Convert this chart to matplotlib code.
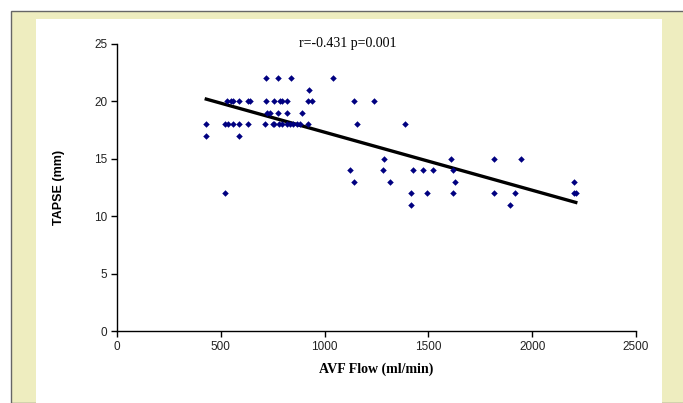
import matplotlib
matplotlib.use("Agg")
from matplotlib import pyplot as plt
from matplotlib.patches import Rectangle

# AVF flow (ml/min) vs TAPSE (mm)
flow = [430, 430, 520, 520, 537, 558, 589, 633, 713, 750, 758, 782, 794, 818, 834, 850, 866, 882, 922, 1155, 1385,
        589,
        532, 549, 558, 589, 630, 641, 720, 757, 786, 797, 818, 919, 938, 1144, 1239,
        724, 737, 777, 818, 890,
        925,
        718, 777, 839, 1042,
        1284, 1608, 1817, 1944,
        1121, 1280, 1425, 1476, 1520, 1618,
        1144, 1316, 1630, 2199,
        1415, 1494, 1618, 1817, 1917, 2199, 2212,
        1415, 1891]
tapse = [18, 17, 12, 18, 18, 18, 18, 18, 18, 18, 18, 18, 18, 18, 18, 18, 18, 18, 18, 18, 18,
         17,
         20, 20, 20, 20, 20, 20, 20, 20, 20, 20, 20, 20, 20, 20, 20,
         19, 19, 19, 19, 19,
         21,
         22, 22, 22, 22,
         15, 15, 15, 15,
         14, 14, 14, 14, 14, 14,
         13, 13, 13, 13,
         12, 12, 12, 12, 12, 12, 12,
         11, 11]

# trend line end points
trend_x = [430, 2210]
trend_y = [20.2, 11.2]

x_ticks = [0, 500, 1000, 1500, 2000, 2500]
y_ticks = [0, 5, 10, 15, 20, 25]

W, H = 683, 403
fig = plt.figure(figsize=(W / 100, H / 100), dpi=100)
fig.patch.set_facecolor("white")

# yellow frame and inner white panel (behind the axes)
fig.patches.append(Rectangle((11 / W, 0), 1, 1 - 11 / H, transform=fig.transFigure,
                             facecolor="#eeedbf", edgecolor="#666666", linewidth=1, zorder=-10))
fig.patches.append(Rectangle((36 / W, 0), (662 - 36) / W, 1 - 19 / H, transform=fig.transFigure,
                             facecolor="white", edgecolor="none", zorder=-9))

ax = fig.add_axes([117 / W, 1 - 331 / H, (636 - 117) / W, (331 - 44) / H])
ax.set_facecolor("none")

ax.scatter(flow, tapse, marker="D", s=11, color="#000080", zorder=3, linewidths=0)
ax.plot(trend_x, trend_y, color="black", linewidth=2.4, zorder=2)

ax.set_xlim(0, 2500)
ax.set_ylim(0, 25)
ax.set_xticks(x_ticks)
ax.set_yticks(y_ticks)
ax.spines["top"].set_visible(False)
ax.spines["right"].set_visible(False)
for s in ("left", "bottom"):
    ax.spines[s].set_linewidth(1)
ax.tick_params(direction="out", length=4, width=1, labelsize=8.5, pad=3)
for lab in ax.get_xticklabels() + ax.get_yticklabels():
    lab.set_fontfamily("Liberation Sans")
    lab.set_color("#222222")

ax.set_xlabel("AVF Flow (ml/min)", fontfamily="Liberation Serif", fontweight="bold", fontsize=10, labelpad=7)
ax.set_ylabel("TAPSE (mm)", fontfamily="Liberation Sans", fontweight="bold", fontsize=9, labelpad=21)

fig.text(348 / W, 1 - 44 / H, "r=-0.431 p=0.001", fontfamily="Liberation Serif", fontsize=10,
         ha="center", va="center")

fig.savefig("out.png", dpi=100)
